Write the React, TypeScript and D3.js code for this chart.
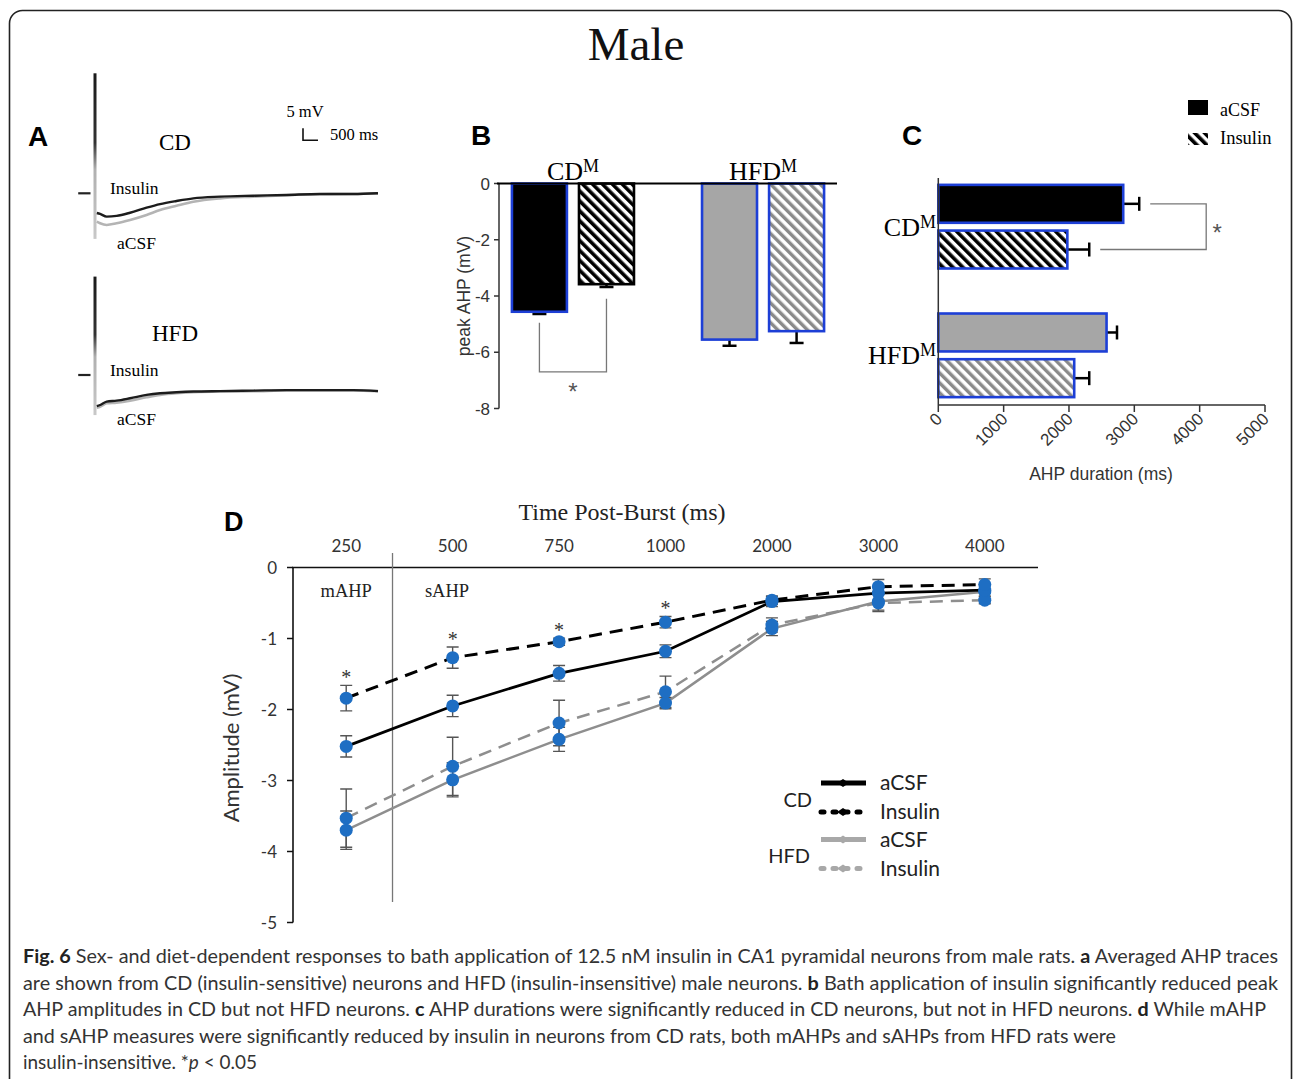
import React from "react";
import * as d3 from "d3";

// panel A: averaged AHP traces, time after burst (ms) and mV relative to pre-burst baseline
const traceTimes = [60, 170, 390, 720, 1170, 1720, 2170, 2720, 3280, 4170, 5280, 6390, 7500, 8610, 9440];
const cdInsulinTrace = [-8.2, -8.6, -9.7, -9.4, -8.1, -6.0, -4.5, -3.2, -2.1, -1.4, -1.0, -0.7, -0.3, -0.3, 0];
const cdAcsfTrace = [-11.8, -12.5, -13.2, -12.5, -11.1, -9.0, -7.0, -5.2, -3.5, -2.1, -1.4, -0.8, -0.4, -0.3, 0];
const hfdInsulinTrace = [-13.0, -12.5, -11.1, -10.7, -9.7, -8.3, -7.6, -7.2, -6.9, -6.7, -6.5, -6.3, -6.3, -6.3, -6.7];
const hfdAcsfTrace = [-13.6, -13.2, -11.8, -11.5, -10.7, -9.3, -8.3, -7.6, -7.2, -6.9, -6.8, -6.4, -6.4, -6.4, -6.7];
const cdSpike = [50, -19];
const hfdSpike = [41, -16.7];
const preBaseline = [-560, -150];

// panels B and C
const groups = ["CD", "HFD"];
const conditions = ["aCSF", "Insulin"];
const peakAhpCD = [-4.56, -3.58];
const peakAhpHFD = [-5.55, -5.25];
const peakAhpErrCD = [0.08, 0.1];
const peakAhpErrHFD = [0.22, 0.42];
const peakTicks = [0, -2, -4, -6, -8];
const durationCD = [2830, 1975];
const durationHFD = [2575, 2080];
const durationErrCD = [245, 335];
const durationErrHFD = [160, 230];
const durationTicks = [0, 1000, 2000, 3000, 4000, 5000];

// panel D
const timeLabels = ["250", "500", "750", "1000", "2000", "3000", "4000"];
const cdAcsf = [-2.52, -1.95, -1.49, -1.18, -0.48, -0.36, -0.32];
const cdAcsfErr = [0.15, 0.15, 0.11, 0.09, 0.07, 0.1, 0.08];
const cdInsulin = [-1.84, -1.27, -1.045, -0.77, -0.46, -0.27, -0.24];
const cdInsulinErr = [0.18, 0.15, 0.05, 0.08, 0.06, 0.1, 0.08];
const hfdAcsf = [-3.7, -2.99, -2.42, -1.91, -0.86, -0.48, -0.34];
const hfdAcsfErr = [0.27, 0.24, 0.17, 0.08, 0.1, 0.12, 0.1];
const hfdInsulin = [-3.53, -2.8, -2.19, -1.75, -0.81, -0.5, -0.46];
const hfdInsulinErr = [0.41, 0.41, 0.32, 0.22, 0.1, 0.12, 0.05];
const ampTicks = [0, -1, -2, -3, -4, -5];
const starredTimes = ["250", "500", "750", "1000"];

const captionLines: [string, boolean][][] = [
  [["Fig. 6", true], [" Sex- and diet-dependent responses to bath application of 12.5 nM insulin in CA1 pyramidal neurons from male rats. ", false], ["a", true], [" Averaged AHP traces", false]],
  [["are shown from CD (insulin-sensitive) neurons and HFD (insulin-insensitive) male neurons. ", false], ["b", true], [" Bath application of insulin significantly reduced peak", false]],
  [["AHP amplitudes in CD but not HFD neurons. ", false], ["c", true], [" AHP durations were significantly reduced in CD neurons, but not in HFD neurons. ", false], ["d", true], [" While mAHP", false]],
  [["and sAHP measures were significantly reduced by insulin in neurons from CD rats, both mAHPs and sAHPs from HFD rats were", false]],
];
const captionWidths = [1255, 1255, 1243, 1093];

const serif = "'Liberation Serif', 'Times New Roman', serif";
const arial = "'Liberation Sans', Arial, sans-serif";
const calibri = "Lato, 'Open Sans', sans-serif";
const blue = "#1d3fd6";
const dot = "#1e6ec3";
const grayBar = "#a6a6a6";

export default function App() {
  // ---- A
  const xA = d3.scaleLinear().domain([0, 9440]).range([95, 378]);
  const yCD = d3.scaleLinear().domain([0, 5]).range([193.3, 181.3]);
  const yHFD = d3.scaleLinear().domain([0, 5]).range([375, 363]);
  const trace = (y: d3.ScaleLinear<number, number>, vals: number[]) =>
    d3.line<number>().x((_, i) => xA(traceTimes[i])).y((v) => y(v)).curve(d3.curveMonotoneX)(vals) || "";

  // ---- B
  const xB = d3.scaleBand().domain(groups).range([499, 837]).paddingInner(0.358).paddingOuter(0.068);
  const xBSub = d3.scaleBand().domain(conditions).range([0, xB.bandwidth()]).paddingInner(0.18);
  const yB = d3.scaleLinear().domain([-8, 0]).range([408.5, 183.5]);
  const peakVals = [peakAhpCD, peakAhpHFD];
  const peakErrs = [peakAhpErrCD, peakAhpErrHFD];

  // ---- C
  const yC = d3.scaleBand().domain(groups).range([172, 410]).paddingInner(0.35).paddingOuter(0.1);
  const yCSub = d3.scaleBand().domain(conditions).range([0, yC.bandwidth()]).paddingInner(0.17);
  const xC = d3.scaleLinear().domain([0, 5000]).range([938.3, 1265]);
  const durVals = [durationCD, durationHFD];
  const durErrs = [durationErrCD, durationErrHFD];

  // ---- D
  const xD = d3.scalePoint().domain(timeLabels).range([293, 1038]).padding(0.5);
  const yD = d3.scaleLinear().domain([-5, 0]).range([922.5, 567.5]);
  const lineD = d3.line<number>().x((_, i) => xD(timeLabels[i])!).y((v) => yD(v));
  const seriesD = [
    { vals: hfdAcsf, errs: hfdAcsfErr, color: "#8e8e8e", width: 2.5, dash: "none" },
    { vals: hfdInsulin, errs: hfdInsulinErr, color: "#8e8e8e", width: 2.5, dash: "13 8" },
    { vals: cdAcsf, errs: cdAcsfErr, color: "#000", width: 2.8, dash: "none" },
    { vals: cdInsulin, errs: cdInsulinErr, color: "#000", width: 3, dash: "13 8" },
  ];

  const fillFor = (g: number, c: number) =>
    c === 0 ? (g === 0 ? "#000" : grayBar) : g === 0 ? "url(#hatchBlack)" : "url(#hatchGray)";

  return (
    <svg width={1293} height={1079} style={{ position: "absolute", left: 0, top: 0, display: "block", background: "#fff" }}>
      <defs>
        <pattern id="hatchBlack" patternUnits="userSpaceOnUse" width={7} height={7} patternTransform="rotate(-45)">
          <rect width={7} height={7} fill="#fff" />
          <rect width={3.6} height={7} fill="#000" />
        </pattern>
        <pattern id="hatchGray" patternUnits="userSpaceOnUse" width={7} height={7} patternTransform="rotate(-45)">
          <rect width={7} height={7} fill="#fff" />
          <rect width={3.4} height={7} fill="#8a8a8a" />
        </pattern>
        <linearGradient id="spikeGrad" x1="0" y1="0" x2="0" y2="1">
          <stop offset="0" stopColor="#1a1a1a" />
          <stop offset="0.42" stopColor="#333" />
          <stop offset="0.58" stopColor="#b0b0b0" />
          <stop offset="1" stopColor="#c8c8c8" />
        </linearGradient>
      </defs>

      <rect x={9.5} y={10.5} width={1282} height={1200} rx={13} fill="none" stroke="#222" strokeWidth={1.6} />
      <text x={636} y={60} textAnchor="middle" fontFamily={serif} fontSize={47} fill="#111">Male</text>

      {/* ---------- A ---------- */}
      <text x={28} y={146} fontFamily={arial} fontWeight="bold" fontSize={28}>A</text>
      {[
        { y: yHFD, spike: hfdSpike, ins: hfdInsulinTrace, acsf: hfdAcsfTrace, label: "HFD", ly: 341 },
        { y: yCD, spike: cdSpike, ins: cdInsulinTrace, acsf: cdAcsfTrace, label: "CD", ly: 150 },
      ].map((p) => (
        <g key={p.label}>
          <line x1={xA(preBaseline[0])} x2={xA(preBaseline[1])} y1={p.y(0)} y2={p.y(0)} stroke="#222" strokeWidth={2.2} />
          <rect x={xA(0) - 1.5} y={p.y(p.spike[0])} width={3} height={p.y(p.spike[1]) - p.y(p.spike[0])} fill="url(#spikeGrad)" />
          <path d={trace(p.y, p.acsf)} fill="none" stroke="#b4b4b4" strokeWidth={2.6} />
          <path d={trace(p.y, p.ins)} fill="none" stroke="#1c1c1c" strokeWidth={2.4} />
          <text x={175} y={p.ly} textAnchor="middle" fontFamily={serif} fontSize={23}>{p.label}</text>
          <text x={110} y={p.y(0) + 1} fontFamily={serif} fontSize={17.5}>Insulin</text>
          <text x={117} y={p.y(p.spike[1]) + 10} fontFamily={serif} fontSize={17.5}>aCSF</text>
        </g>
      ))}
      <path d={`M${303},${yCD(0) - 53 - (yCD(0) - yCD(5))}V${yCD(0) - 53}H${303 + xA(500) - xA(0)}`} fill="none" stroke="#111" strokeWidth={1.6} />
      <text x={305} y={117} textAnchor="middle" fontFamily={serif} fontSize={16.5}>5 mV</text>
      <text x={330} y={140} fontFamily={serif} fontSize={16.5}>500 ms</text>

      {/* ---------- B ---------- */}
      <text x={471} y={145} fontFamily={arial} fontWeight="bold" fontSize={28}>B</text>
      <line x1={499} x2={499} y1={yB(0)} y2={yB(-8)} stroke="#333" strokeWidth={1.5} />
      {peakTicks.map((t) => (
        <g key={t}>
          <line x1={494} x2={499} y1={yB(t)} y2={yB(t)} stroke="#333" strokeWidth={1.5} />
          <text x={490} y={yB(t) + 6} textAnchor="end" fontFamily={arial} fontSize={17} fill="#333">{t}</text>
        </g>
      ))}
      <text transform={`translate(470,${(yB(0) + yB(-8)) / 2}) rotate(-90)`} textAnchor="middle" fontFamily={arial} fontSize={17.5} fill="#333">peak AHP (mV)</text>
      {groups.map((g, gi) =>
        conditions.map((c, ci) => {
          const v = peakVals[gi][ci];
          const e = peakErrs[gi][ci];
          const x = xB(g)! + xBSub(c)!;
          const cx = x + xBSub.bandwidth() / 2;
          return (
            <g key={g + c}>
              <line x1={cx} x2={cx} y1={yB(v)} y2={yB(v - e)} stroke="#000" strokeWidth={2.5} />
              <line x1={cx - 7} x2={cx + 7} y1={yB(v - e)} y2={yB(v - e)} stroke="#000" strokeWidth={2.5} />
              <rect x={x} y={yB(0)} width={xBSub.bandwidth()} height={yB(v) - yB(0)} fill={fillFor(gi, ci)}
                stroke={gi === 0 && ci === 1 ? "#000" : blue} strokeWidth={2.6} />
            </g>
          );
        })
      )}
      <line x1={497} x2={837} y1={yB(0)} y2={yB(0)} stroke="#000" strokeWidth={2.2} />
      {groups.map((g) => (
        <text key={g} x={xB(g)! + xB.bandwidth() / 2} y={180} textAnchor="middle" fontFamily={serif} fontSize={26}>
          {g}<tspan fontSize={18} dy={-8}>M</tspan>
        </text>
      ))}
      {(() => {
        const l = xB("CD")! + xBSub("aCSF")! + xBSub.bandwidth() / 2;
        const r = xB("CD")! + xBSub("Insulin")! + xBSub.bandwidth() / 2;
        return (
          <g>
            <path d={`M${l},${yB(-4.95)}V${yB(-6.7)}H${r}V${yB(-4.1)}`} fill="none" stroke="#777" strokeWidth={1.3} />
            <text x={(l + r) / 2} y={yB(-7.7)} textAnchor="middle" fontFamily={arial} fontSize={24} fill="#555">*</text>
          </g>
        );
      })()}

      {/* ---------- C ---------- */}
      <text x={902} y={145} fontFamily={arial} fontWeight="bold" fontSize={28}>C</text>
      <rect x={1188} y={100} width={20} height={15} fill="#000" />
      <rect x={1188} y={133} width={20} height={12} fill="url(#hatchBlack)" />
      <text x={1220} y={116} fontFamily={serif} fontSize={18}>aCSF</text>
      <text x={1220} y={144} fontFamily={serif} fontSize={18.5}>Insulin</text>
      {groups.map((g, gi) =>
        conditions.map((c, ci) => {
          const v = durVals[gi][ci];
          const e = durErrs[gi][ci];
          const y = yC(g)! + yCSub(c)!;
          const cy = y + yCSub.bandwidth() / 2;
          return (
            <g key={g + c}>
              <line x1={xC(v)} x2={xC(v + e)} y1={cy} y2={cy} stroke="#000" strokeWidth={2.5} />
              <line x1={xC(v + e)} x2={xC(v + e)} y1={cy - 7} y2={cy + 7} stroke="#000" strokeWidth={2.5} />
              <rect x={xC(0)} y={y} width={xC(v) - xC(0)} height={yCSub.bandwidth()} fill={fillFor(gi, ci)} stroke={blue} strokeWidth={2.6} />
            </g>
          );
        })
      )}
      <line x1={xC(0)} x2={xC(0)} y1={178} y2={405} stroke="#333" strokeWidth={1.5} />
      <line x1={xC(0)} x2={xC(5000)} y1={405} y2={405} stroke="#333" strokeWidth={1.5} />
      {durationTicks.map((t) => (
        <g key={t}>
          <line x1={xC(t)} x2={xC(t)} y1={405} y2={412} stroke="#333" strokeWidth={1.5} />
          <text transform={`translate(${xC(t) + 5},${420}) rotate(-45)`} textAnchor="end" fontFamily={arial} fontSize={17} fill="#333">{t}</text>
        </g>
      ))}
      <text x={1101} y={480} textAnchor="middle" fontFamily={arial} fontSize={17.5} fill="#333">AHP duration (ms)</text>
      {groups.map((g) => (
        <text key={g} x={936} y={yC(g)! + yC.bandwidth() / 2 + 9} textAnchor="end" fontFamily={serif} fontSize={26}>
          {g}<tspan fontSize={18} dy={-8}>M</tspan>
        </text>
      ))}
      {(() => {
        const ya = yC("CD")! + yCSub("aCSF")! + yCSub.bandwidth() / 2;
        const yi = yC("CD")! + yCSub("Insulin")! + yCSub.bandwidth() / 2;
        const xr = xC(4100);
        return (
          <g>
            <path d={`M${xC(durationCD[0] + durationErrCD[0]) + 11},${ya}H${xr}V${yi}H${xC(durationCD[1] + durationErrCD[1]) + 11}`} fill="none" stroke="#777" strokeWidth={1.3} />
            <text x={xr + 11} y={(ya + yi) / 2 + 14} textAnchor="middle" fontFamily={arial} fontSize={24} fill="#555">*</text>
          </g>
        );
      })()}

      {/* ---------- D ---------- */}
      <text x={224} y={531} fontFamily={arial} fontWeight="bold" fontSize={27}>D</text>
      <text x={622} y={520} textAnchor="middle" fontFamily={serif} fontSize={24} fill="#222">Time Post-Burst (ms)</text>
      {timeLabels.map((t) => (
        <text key={t} x={xD(t)} y={552} textAnchor="middle" fontFamily={calibri} fontSize={17} fill="#333">{t}</text>
      ))}
      <line x1={292} x2={1038} y1={yD(0)} y2={yD(0)} stroke="#111" strokeWidth={1.6} />
      <line x1={293} x2={293} y1={yD(0)} y2={yD(-5)} stroke="#111" strokeWidth={1.6} />
      {ampTicks.map((t) => (
        <g key={t}>
          <line x1={287} x2={293} y1={yD(t)} y2={yD(t)} stroke="#111" strokeWidth={1.5} />
          <text x={277} y={yD(t) + 6} textAnchor="end" fontFamily={calibri} fontSize={17} fill="#333">{t}</text>
        </g>
      ))}
      <text transform={`translate(239,${748}) rotate(-90)`} textAnchor="middle" fontFamily={calibri} fontSize={22} fill="#333">Amplitude (mV)</text>
      <line x1={xD("250")! + xD.step() * 0.435} x2={xD("250")! + xD.step() * 0.435} y1={553} y2={902} stroke="#777" strokeWidth={1.3} />
      <text x={xD("250")} y={597} textAnchor="middle" fontFamily={serif} fontSize={18.5} fill="#222">mAHP</text>
      <text x={447} y={597} textAnchor="middle" fontFamily={serif} fontSize={18.5} fill="#222">sAHP</text>
      {seriesD.map((s, i) => (
        <path key={i} d={lineD(s.vals) || ""} fill="none" stroke={s.color} strokeWidth={s.width} strokeDasharray={s.dash} />
      ))}
      {seriesD.map((s, i) =>
        s.vals.map((v, j) => {
          const x = xD(timeLabels[j])!;
          return (
            <path key={`e${i}-${j}`} d={`M${x - 6},${yD(v + s.errs[j])}H${x + 6}M${x},${yD(v + s.errs[j])}V${yD(v - s.errs[j])}M${x - 6},${yD(v - s.errs[j])}H${x + 6}`}
              fill="none" stroke="#555" strokeWidth={1.4} />
          );
        })
      )}
      {seriesD.map((s, i) =>
        s.vals.map((v, j) => <circle key={`c${i}-${j}`} cx={xD(timeLabels[j])} cy={yD(v)} r={6.5} fill={dot} />)
      )}
      {starredTimes.map((t) => {
        const j = timeLabels.indexOf(t);
        return (
          <text key={t} x={xD(t)} y={yD(cdInsulin[j] + cdInsulinErr[j]) - 1} textAnchor="middle" fontFamily={serif} fontSize={20} fill="#333">*</text>
        );
      })}
      {/* legend */}
      <text x={812} y={807} textAnchor="end" fontFamily={calibri} fontSize={20} fill="#222">CD</text>
      <text x={810} y={863} textAnchor="end" fontFamily={calibri} fontSize={20} fill="#222">HFD</text>
      {[
        { y: 783, color: "#000", dash: "none", label: "aCSF" },
        { y: 812, color: "#000", dash: "3 9", label: "Insulin" },
        { y: 839.5, color: "#a8a8a8", dash: "none", label: "aCSF" },
        { y: 868.5, color: "#a8a8a8", dash: "3 9", label: "Insulin" },
      ].map((l, i) => (
        <g key={i}>
          <line x1={821} x2={866} y1={l.y} y2={l.y} stroke={l.color} strokeWidth={5} strokeDasharray={l.dash} strokeLinecap={l.dash === "none" ? "butt" : "round"} />
          <path d={`M${837},${l.y}l6,-4l6,4l-6,4z`} fill={l.color} />
          <text x={880} y={l.y + 7} fontFamily={calibri} fontSize={21} fill="#222">{l.label}</text>
        </g>
      ))}

      {/* ---------- caption ---------- */}
      {captionLines.map((line, i) => (
        <text key={i} x={23} y={963 + i * 26.5} textLength={captionWidths[i]} lengthAdjust="spacingAndGlyphs" fontFamily={calibri} fontSize={19} fill="#333">
          {line.map(([s, b], k) => (
            <tspan key={k} fontWeight={b ? "bold" : "normal"} fill={b ? "#222" : "#333"}>{s}</tspan>
          ))}
        </text>
      ))}
      <text x={23} y={963 + 4 * 26.5} textLength={234} lengthAdjust="spacingAndGlyphs" fontFamily={calibri} fontSize={19} fill="#333">
        insulin-insensitive. *<tspan fontStyle="italic">p</tspan> {"<"} 0.05
      </text>
    </svg>
  );
}
